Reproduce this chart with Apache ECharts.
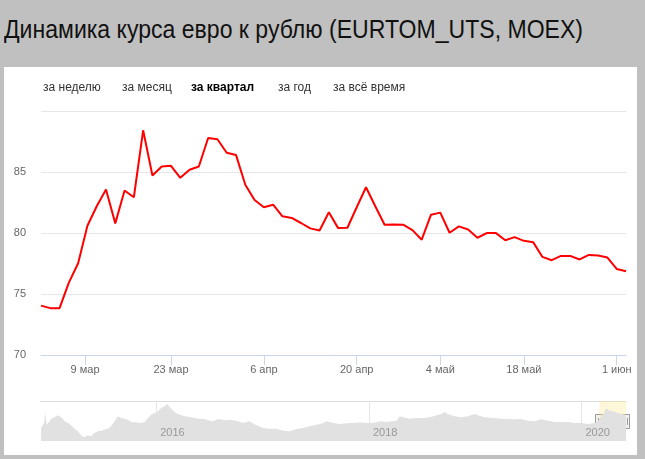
<!DOCTYPE html>
<html>
<head>
<meta charset="utf-8">
<script src="https://cdn.jsdelivr.net/npm/echarts@6/dist/echarts.min.js"></script>
<style>
html,body{margin:0;padding:0;width:645px;height:459px;background:#c0c0c0;overflow:hidden;}
#title{position:absolute;left:4px;top:17px;font-family:'Liberation Sans',Arial,sans-serif;font-size:25px;line-height:25px;color:#111;white-space:nowrap;transform:scaleX(0.922);transform-origin:0 0;}
#panel{position:absolute;left:4px;top:67px;width:633px;height:388px;background:#fff;}
.btn{position:absolute;top:81px;font-family:'Liberation Sans',Arial,sans-serif;font-size:12px;line-height:12px;color:#333;white-space:nowrap;}
.btn.active{font-weight:bold;color:#000;}
#chart{position:absolute;left:0;top:0;width:645px;height:459px;}
</style>
</head>
<body>
<div id="title">Динамика курса евро к рублю (EURTOM_UTS, MOEX)</div>
<div id="panel"></div>
<div id="chart"></div>
<span class="btn" style="left:43px">за неделю</span>
<span class="btn" style="left:122px">за месяц</span>
<span class="btn active" style="left:191px">за квартал</span>
<span class="btn" style="left:278px">за год</span>
<span class="btn" style="left:333px">за всё время</span>
<script>
// Trading days (ordinal x axis)
var dates = [
 '2020-03-02','2020-03-03','2020-03-04','2020-03-05','2020-03-06','2020-03-10','2020-03-11','2020-03-12','2020-03-13',
 '2020-03-16','2020-03-17','2020-03-18','2020-03-19','2020-03-20','2020-03-23','2020-03-24','2020-03-25','2020-03-26','2020-03-27',
 '2020-03-30','2020-03-31','2020-04-01','2020-04-02','2020-04-03','2020-04-06','2020-04-07','2020-04-08','2020-04-09','2020-04-10',
 '2020-04-13','2020-04-14','2020-04-15','2020-04-16','2020-04-17','2020-04-20','2020-04-21','2020-04-22','2020-04-23','2020-04-24',
 '2020-04-27','2020-04-28','2020-04-29','2020-04-30','2020-05-04','2020-05-05','2020-05-06','2020-05-07','2020-05-08',
 '2020-05-12','2020-05-13','2020-05-14','2020-05-15','2020-05-18','2020-05-19','2020-05-20','2020-05-21','2020-05-22',
 '2020-05-25','2020-05-26','2020-05-27','2020-05-28','2020-05-29','2020-06-01','2020-06-02'
];
var rates = [
 74.05,73.84,73.84,75.93,77.52,80.59,82.19,83.56,80.79,
 83.48,82.93,88.42,84.71,85.45,85.51,84.52,85.18,85.45,87.79,
 87.68,86.58,86.40,83.95,82.71,82.11,82.32,81.37,81.23,80.82,
 80.38,80.21,81.70,80.40,80.43,82.11,83.75,82.19,80.68,80.70,
 80.68,80.24,79.45,81.50,81.67,80.02,80.54,80.29,79.61,
 79.99,79.99,79.41,79.66,79.36,79.25,78.04,77.77,78.12,
 78.12,77.83,78.20,78.15,77.99,77.05,76.86
];
var tickDates = ['2020-03-09','2020-03-23','2020-04-06','2020-04-20','2020-05-04','2020-05-18','2020-06-01'];
var tickLabels = ['9 мар','23 мар','6 апр','20 апр','4 май','18 май','1 июн'];
var yTicks = [70, 75, 80, 85, 90];

// Navigator: full history
var navDates = [
 '2014-12-02','2014-12-12','2014-12-16','2014-12-21','2014-12-31','2015-01-06','2015-01-17','2015-01-28','2015-02-09','2015-02-21',
 '2015-03-04','2015-03-15','2015-03-27','2015-04-07','2015-04-18','2015-04-30','2015-05-11','2015-05-22','2015-06-03','2015-06-15',
 '2015-06-26','2015-07-08','2015-07-19','2015-07-30','2015-08-11','2015-08-23','2015-09-03','2015-09-15','2015-09-26','2015-10-07',
 '2015-10-19','2015-10-30','2015-11-11','2015-11-23','2015-12-04','2015-12-15','2015-12-27','2016-01-07','2016-01-18','2016-01-30',
 '2016-02-08','2016-02-17','2016-02-28','2016-03-10','2016-03-22','2016-04-08','2016-05-01','2016-05-24','2016-06-16','2016-07-09',
 '2016-07-20','2016-08-01','2016-08-24','2016-09-16','2016-10-09','2016-10-25','2016-11-17','2016-12-10','2017-01-02','2017-01-25',
 '2017-02-17','2017-03-12','2017-04-04','2017-04-27','2017-05-20','2017-06-12','2017-07-05','2017-07-28','2017-08-08','2017-08-31',
 '2017-09-23','2017-10-16','2017-11-08','2017-12-01','2017-12-24','2018-01-16','2018-02-08','2018-03-03','2018-03-26','2018-04-06',
 '2018-04-17','2018-04-29','2018-05-22','2018-06-14','2018-07-07','2018-07-30','2018-08-22','2018-09-07','2018-09-18','2018-09-29',
 '2018-10-22','2018-11-14','2018-12-07','2018-12-30','2019-01-10','2019-02-02','2019-03-08','2019-03-31','2019-04-23','2019-05-16',
 '2019-06-08','2019-07-01','2019-07-24','2019-08-16','2019-09-08','2019-10-01','2019-10-24','2019-11-16','2019-12-09','2020-01-01',
 '2020-01-24','2020-02-16','2020-03-02','2020-03-14','2020-03-26','2020-04-07','2020-04-24','2020-05-12','2020-05-29','2020-06-02'
];
var navValues = [
 64.6,70.3,81.5,68.4,72.1,75.1,76.6,78.9,76.6,72.1,
 70.3,67.6,63.9,60.9,56.4,54.1,56.4,55.3,59.0,60.9,
 61.6,62.8,63.9,66.5,72.1,77.8,75.9,75.1,74.0,71.4,
 71.0,70.6,70.6,71.4,75.9,79.6,81.5,83.4,87.1,89.0,
 91.6,87.9,84.1,81.5,79.6,77.8,76.6,75.1,74.8,72.1,
 72.9,74.8,73.3,73.6,72.1,70.3,72.1,67.6,64.6,63.9,
 63.9,61.6,60.9,63.5,64.6,66.5,68.4,70.3,72.1,70.3,
 69.1,69.9,70.3,71.0,70.3,70.6,72.1,71.4,72.1,72.9,
 77.8,76.6,75.1,75.9,75.9,76.6,78.9,80.4,82.6,80.4,
 77.8,76.6,77.8,80.4,78.9,76.6,75.9,75.1,74.8,74.4,
 74.8,72.9,72.1,74.4,72.9,71.4,71.4,71.4,70.3,70.3,
 69.1,70.3,74.0,79.6,87.1,84.1,82.6,81.0,79.5,76.9
];
var navYearTicks = ['2016-01-01','2018-01-01','2020-01-01'];

function ts(s){ return Date.parse(s + 'T00:00:00Z'); }
function dayNum(s){ return ts(s) / 86400000; }
// ordinal position of a date (interpolated for non-trading days)
function ordinalPos(s){
  var d = dayNum(s);
  for (var i = 0; i < dates.length; i++) {
    var di = dayNum(dates[i]);
    if (di === d) return i;
    if (di > d && i > 0) {
      var dp = dayNum(dates[i-1]);
      return i - 1 + (d - dp) / (di - dp);
    }
  }
  return dates.length - 1;
}
var tickPos = tickDates.map(ordinalPos);
function labelFor(v){
  for (var i = 0; i < tickPos.length; i++) if (Math.abs(tickPos[i] - v) < 1e-6) return tickLabels[i];
  return '';
}
var yearTs = navYearTicks.map(ts);
var navMin = ts(navDates[0]) - 4 * 86400000;
var navMax = ts(navDates[navDates.length - 1]);

var chart = echarts.init(document.getElementById('chart'), null, {renderer: 'canvas'});
var font = "'Liberation Sans', Arial, sans-serif";
var option = {
  animation: false,
  backgroundColor: 'transparent',
  grid: [
    {left: 41, top: 111, width: 585, height: 244},
    {left: 40, top: 401, width: 586, height: 40}
  ],
  xAxis: [
    {
      type: 'value', gridIndex: 0, min: 0, max: dates.length - 1,
      axisLine: {show: true, lineStyle: {color: '#ccd6eb', width: 1}},
      axisTick: {show: true, customValues: tickPos, length: 10, lineStyle: {color: '#ccd6eb'}},
      axisLabel: {show: true, customValues: tickPos, formatter: labelFor, color: '#666', fontSize: 11, fontFamily: font, margin: 9},
      splitLine: {show: false}
    },
    {
      type: 'value', gridIndex: 1, min: navMin, max: navMax, z: 0,
      axisLine: {show: false},
      axisTick: {show: true, customValues: yearTs, inside: true, length: 40, lineStyle: {color: '#e6e6e6', width: 1}},
      axisLabel: {show: false},
      splitLine: {show: false}
    },
    {
      type: 'value', gridIndex: 1, position: 'top', min: navMin, max: navMax,
      axisLine: {show: true, lineStyle: {color: '#dcdcdc', width: 1}},
      axisTick: {show: false}, axisLabel: {show: false}, splitLine: {show: false}
    },
    {
      type: 'value', gridIndex: 1, position: 'bottom', min: navMin, max: navMax, z: 10,
      axisLine: {show: false}, axisTick: {show: false}, splitLine: {show: false},
      axisLabel: {show: true, customValues: yearTs, inside: true, margin: 3, align: 'left', padding: [0, 0, 0, 4],
        formatter: function(v){ return String(new Date(v).getUTCFullYear()); }, color: '#999', fontSize: 11, fontFamily: font}
    }
  ],
  yAxis: [
    {
      type: 'value', gridIndex: 0, min: yTicks[0], max: yTicks[yTicks.length - 1], interval: 5,
      axisLine: {show: false}, axisTick: {show: false},
      axisLabel: {color: '#666', fontSize: 11, fontFamily: font, margin: 15,
        formatter: function(v){ return v === yTicks[yTicks.length - 1] ? '' : String(v); }},
      splitLine: {show: true, lineStyle: {color: '#e6e6e6', width: 1}}
    },
    {
      type: 'value', gridIndex: 1, min: 50, max: 95, show: false
    }
  ],
  series: [
    {
      type: 'line', xAxisIndex: 0, yAxisIndex: 0,
      data: rates.map(function(v, i){ return [i, v]; }),
      showSymbol: false, symbol: 'none',
      lineStyle: {color: '#ff0000', width: 2}, z: 3
    },
    {
      type: 'line', xAxisIndex: 1, yAxisIndex: 1,
      data: navDates.map(function(d, i){ return [ts(d), navValues[i]]; }),
      showSymbol: false, symbol: 'none',
      lineStyle: {width: 0, opacity: 0},
      areaStyle: {color: '#e1e1e1', opacity: 1, origin: 'start'}, z: 2
    },
    {
      type: 'line', xAxisIndex: 1, yAxisIndex: 1,
      data: dates.map(function(d, i){ return [ts(d), rates[i]]; }),
      showSymbol: false, symbol: 'none', lineStyle: {opacity: 0}, z: 4, silent: true,
      markArea: {silent: true, itemStyle: {color: 'rgba(255,228,128,0.3)'},
        data: [[{xAxis: ts(dates[0])}, {xAxis: ts(dates[dates.length - 1])}]]}
    }
  ]
};
chart.setOption(option);

// navigator handles at the selection edges
function handle(x, y){
  return {type: 'group', x: Math.round(x) - 4, y: Math.round(y) - 7, z: 100, children: [
    {type: 'rect', shape: {x: 0.5, y: 0.5, width: 7, height: 14}, style: {fill: '#f2f2f2', stroke: '#999', lineWidth: 1}},
    {type: 'line', shape: {x1: 3.5, y1: 4, x2: 3.5, y2: 11}, style: {stroke: '#999', lineWidth: 1}},
    {type: 'line', shape: {x1: 5.5, y1: 4, x2: 5.5, y2: 11}, style: {stroke: '#999', lineWidth: 1}}
  ]};
}
var p0 = chart.convertToPixel({xAxisIndex: 1, yAxisIndex: 1}, [ts(dates[0]), 72.5]);
var p1 = chart.convertToPixel({xAxisIndex: 1, yAxisIndex: 1}, [ts(dates[dates.length - 1]), 72.5]);
chart.setOption({graphic: [handle(p0[0], p0[1]), handle(p1[0], p1[1])]});
</script>
</body>
</html>
